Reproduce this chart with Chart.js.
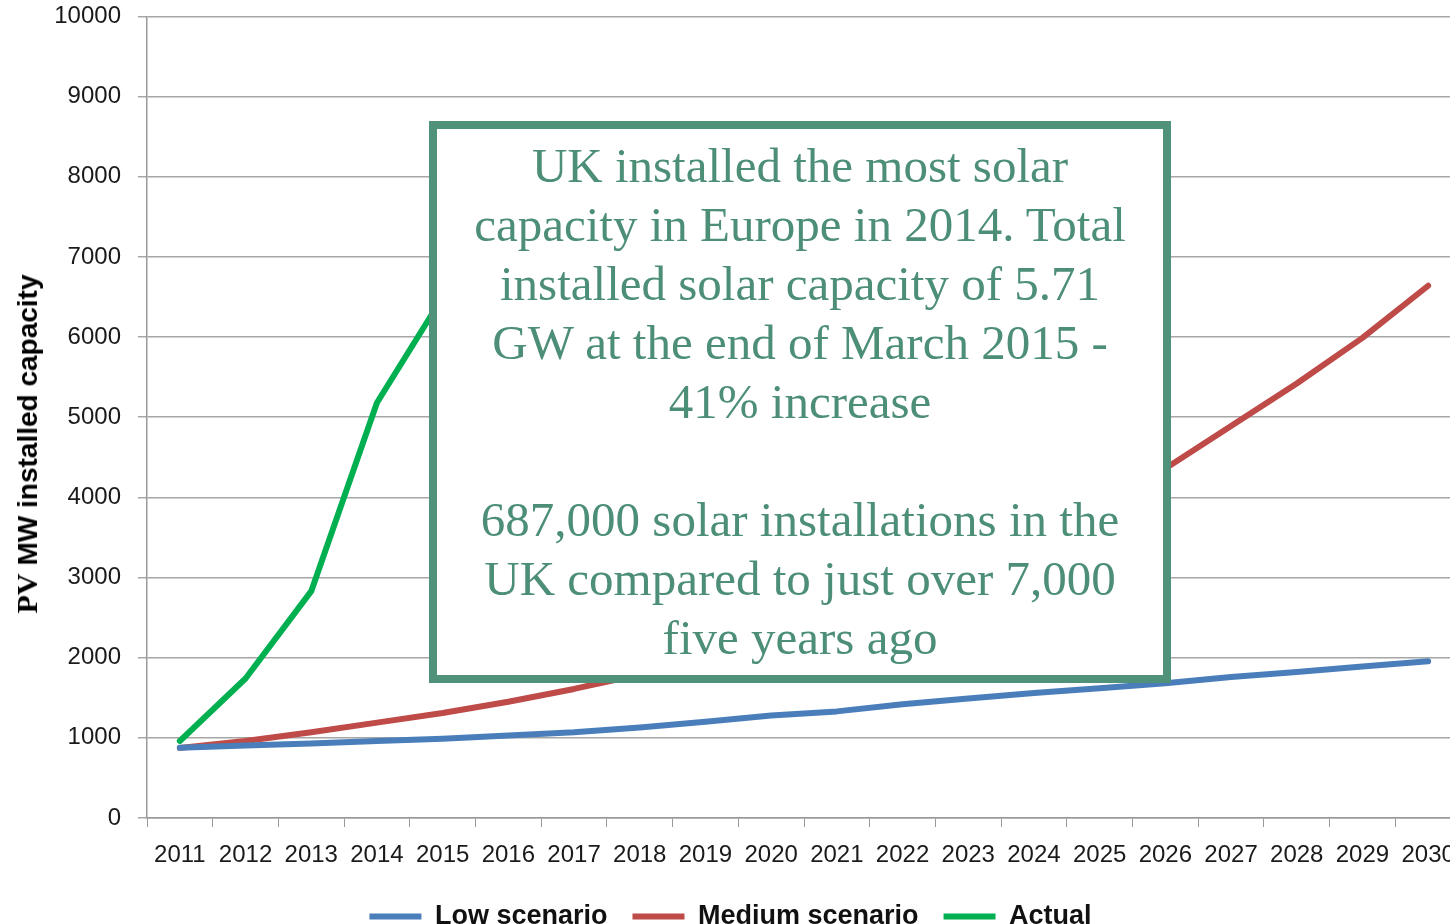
<!DOCTYPE html>
<html>
<head>
<meta charset="utf-8">
<script src="https://cdn.jsdelivr.net/npm/chart.js@4.4.1/dist/chart.umd.min.js"></script>
<style>
    html, body { margin: 0; padding: 0; background: #fff; overflow: hidden; }
    #cadre { position: relative; width: 1471px; height: 940px; }
    #graphique-pv { position: absolute; left: 0; top: -15px; }
    .titre-y {
        position: absolute; left: 27px; top: 444px;
        transform: translate(-50%, -50%) rotate(-90deg);
        white-space: nowrap; color: #000;
    }
    .titre-y .pv { font: bold 30px "Liberation Serif", serif; }
    .titre-y .mw { font: bold 28px "Liberation Sans", sans-serif; }
    .encadre {
        position: absolute; left: 429px; top: 121px; width: 742px; height: 562px;
        box-sizing: border-box; border: 8px solid #4f9179; background: #fff;
        padding-top: 7px; text-align: center; color: #4c8e76;
        font: 49px/59px "Liberation Serif", serif;
    }
</style>
</head>
<body>
<div id="cadre">
    <canvas id="graphique-pv" width="1471" height="955"></canvas>
    <div class="titre-y"><span class="pv">PV</span>&nbsp;&nbsp;<span class="mw">MW installed capacity</span></div>
    <div class="encadre">
        UK installed the most solar<br>
        capacity in Europe in 2014. Total<br>
        installed solar capacity of 5.71<br>
        GW at the end of March 2015 -<br>
        41% increase<br>
        <br>
        687,000 solar installations in the<br>
        UK compared to just over 7,000<br>
        five years ago
    </div>
</div>
<script>
const annees = ["2011", "2012", "2013", "2014", "2015", "2016", "2017", "2018", "2019", "2020",
    "2021", "2022", "2023", "2024", "2025", "2026", "2027", "2028", "2029", "2030"]
const scenarioBas = [875, 905, 930, 960, 990, 1030, 1070, 1130, 1200, 1280,
    1330, 1420, 1490, 1560, 1620, 1680, 1760, 1820, 1890, 1955]
const scenarioMoyen = [875, 960, 1070, 1190, 1310, 1450, 1610, 1790, 1990, 2210,
    2460, 2740, 3060, 3420, 3850, 4360, 4890, 5420, 5990, 6640]
const actuel = [960, 1740, 2830, 5180, 6500, null, null, null, null, null,
    null, null, null, null, null, null, null, null, null, null]
const graduationsY = [0, 1000, 2000, 3000, 4000, 5000, 6000, 7000, 8000, 9000, 10000]

const police = "'Liberation Sans', sans-serif"

function serie(label, data, couleur) {
    return {
        label: label,
        data: data,
        borderColor: couleur,
        backgroundColor: couleur,
        borderWidth: 6,
        borderCapStyle: "round",
        borderJoinStyle: "round",
        pointRadius: 0,
        pointStyle: "line",
        tension: 0,
        spanGaps: false,
    }
}

const data = {
    labels: annees,
    datasets: [
        serie("Low scenario", scenarioBas, "#4a7ebb"),
        serie("Medium scenario", scenarioMoyen, "#be4b48"),
        serie("Actual", actuel, "#00b050"),
    ],
}

const config = {
    type: "line",
    data: data,
    options: {
        responsive: false,
        animation: false,
        layout: { padding: { top: 1, right: 10, left: 0, bottom: 0 } },
        plugins: {
            tooltip: { enabled: false },
            legend: {
                position: "bottom",
                labels: {
                    usePointStyle: true,
                    pointStyleWidth: 52,
                    padding: 25,
                    color: "#111",
                    font: { family: police, size: 27, weight: "bold" },
                },
            },
        },
        scales: {
            x: {
                offset: true,
                grid: { display: true, drawOnChartArea: false, offset: true, tickLength: 9, color: "#999" },
                border: { color: "#999", width: 1.5 },
                ticks: { color: "#1a1a1a", padding: 14, maxRotation: 0, autoSkip: false,
                    font: { family: police, size: 24 } },
                afterFit: function (scale) { scale.height = 60 },
            },
            y: {
                min: 0,
                max: 10000,
                afterBuildTicks: function (scale) { scale.ticks = graduationsY.map(v => ({ value: v })) },
                grid: { color: "#a6a6a6", lineWidth: 1.5, tickLength: 9 },
                border: { color: "#999", width: 1.5 },
                ticks: { color: "#1a1a1a", padding: 17, font: { family: police, size: 24 },
                    callback: function (valeur) { return String(valeur) } },
                afterFit: function (scale) { scale.width = 147 },
            },
        },
    },
}

const graphiquePV = new Chart(document.querySelector("#graphique-pv"), config)
</script>
</body>
</html>
